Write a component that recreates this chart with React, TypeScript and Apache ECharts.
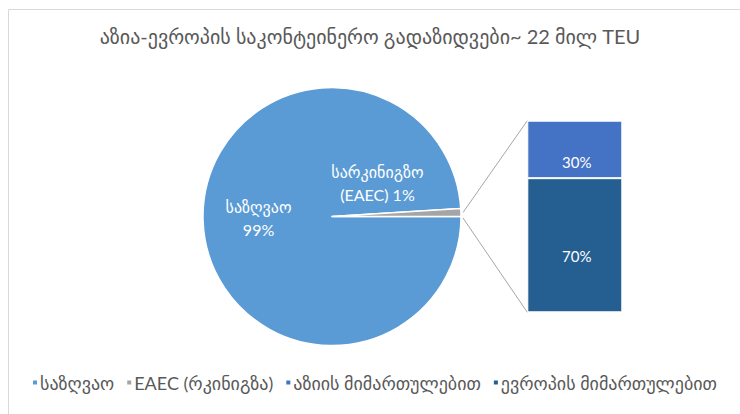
import React, { useEffect, useRef } from "react";
import * as echarts from "echarts";

const titleText = "აზია-ევროპის საკონტეინერო გადაზიდვები~ 22 მილ TEU";
const pieNames = ["საზღვაო", "EAEC (რკინიგზა)"];
const pieLabels = ["საზღვაო\n99%", "სარკინიგზო\n(EAEC) 1%"];
const pieValues = [99, 1];
const barNames = ["აზიის მიმართულებით", "ევროპის მიმართულებით"];
const barValues = [30, 70];
const barLabels = ["30%", "70%"];

const FONT = "Lato, 'DejaVu Sans', sans-serif";
const COLORS = { sea: "#5B9BD5", rail: "#A5A5A5", asia: "#4472C4", europe: "#255E91" };

export default function App() {
  const ref = useRef<HTMLDivElement>(null);
  useEffect(() => {
    if (!ref.current) return;
    const chart = echarts.init(ref.current, undefined, { renderer: "svg" });
    const cx = 332, cy = 216.5, r = 129;
    const gx = 527.3, gw = 95, gy = 120.7, gh = 191.6;
    chart.setOption({
      animation: false,
      backgroundColor: "#ffffff",
      textStyle: { fontFamily: FONT },
      title: {
        text: titleText,
        left: "center",
        top: 26,
        padding: 0,
        textStyle: { fontFamily: FONT, fontSize: 20, fontWeight: "normal", color: "#595959" },
      },
      legend: {
        data: [pieNames[0], pieNames[1], barNames[0], barNames[1]],
        left: 31,
        top: 373.5,
        padding: 0,
        icon: "rect",
        itemWidth: 6,
        itemHeight: 6,
        itemGap: 11,
        textStyle: { fontFamily: FONT, fontSize: 18, color: "#595959", padding: [0, 0, 0, -3] },
      },
      grid: { left: gx, top: gy, width: gw, height: gh, containLabel: false },
      xAxis: { type: "category", data: [""], show: false },
      yAxis: { type: "value", min: 0, max: 100, show: false },
      graphic: [
        { type: "line", shape: { x1: 8.5, y1: 9.5, x2: 740, y2: 9.5 }, style: { stroke: "#D9D9D9", lineWidth: 1 }, silent: true },
        { type: "line", shape: { x1: 8.5, y1: 9.5, x2: 8.5, y2: 414 }, style: { stroke: "#D9D9D9", lineWidth: 1 }, silent: true },
        { type: "line", shape: { x1: cx + r + 2, y1: cy - 4, x2: gx, y2: gy }, style: { stroke: "#A6A6A6", lineWidth: 1 }, silent: true, z: 1 },
        { type: "line", shape: { x1: cx + r + 2, y1: cy + 1.5, x2: gx, y2: gy + gh }, style: { stroke: "#A6A6A6", lineWidth: 1 }, silent: true, z: 1 },
      ],
      series: [
        {
          type: "pie",
          center: [cx, cy],
          radius: [0, r],
          startAngle: 0,
          clockwise: true,
          avoidLabelOverlap: false,
          itemStyle: { borderColor: "#ffffff", borderWidth: 1.5 },
          label: {
            show: true,
            position: "inside",
            color: "#ffffff",
            fontFamily: FONT,
            fontSize: 16,
            lineHeight: 23,
            align: "center",
          },
          labelLine: { show: false },
          data: [
            { name: pieNames[0], value: pieValues[0], itemStyle: { color: COLORS.sea }, label: { formatter: pieLabels[0], offset: [-6, -1] } },
            { name: pieNames[1], value: pieValues[1], itemStyle: { color: COLORS.rail }, label: { formatter: pieLabels[1], offset: [-22, -31] } },
          ],
        },
        {
          type: "bar",
          name: barNames[1],
          stack: "s",
          barWidth: "100%",
          itemStyle: { color: COLORS.europe, borderColor: "#ffffff", borderWidth: 1 },
          label: { show: true, position: "inside", formatter: barLabels[1], color: "#ffffff", fontFamily: FONT, fontSize: 15, offset: [2, 11] },
          data: [barValues[1]],
        },
        {
          type: "bar",
          name: barNames[0],
          stack: "s",
          barWidth: "100%",
          itemStyle: { color: COLORS.asia, borderColor: "#ffffff", borderWidth: 1 },
          label: { show: true, position: "inside", formatter: barLabels[0], color: "#ffffff", fontFamily: FONT, fontSize: 15, offset: [2, 13] },
          data: [barValues[0]],
        },
      ],
    });
    return () => chart.dispose();
  }, []);
  return (
    <div
      ref={ref}
      style={{ position: "fixed", left: 0, top: 0, width: 740, height: 414, background: "#fff" }}
    />
  );
}
